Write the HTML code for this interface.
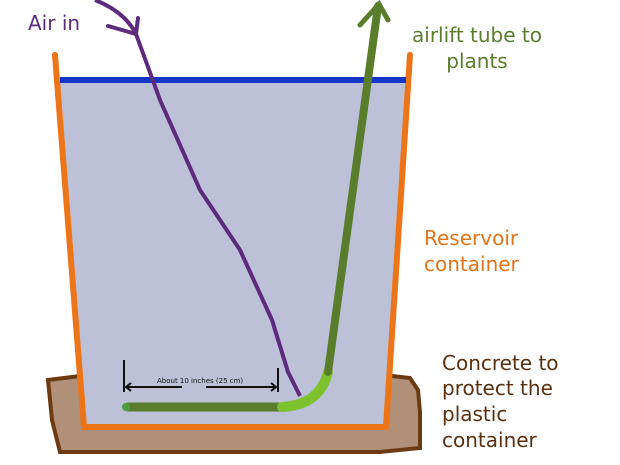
<!DOCTYPE html>
<html><head><style>body{margin:0;background:#fff}svg{display:block}</style></head><body>
<svg width="620" height="465" viewBox="0 0 620 465" xmlns="http://www.w3.org/2000/svg" font-family="'DejaVu Sans','Liberation Sans',sans-serif">
<path d="M48,380 L80,376 L392,376 L410,378 L418,390 L420,412 L420,448 L380,452 L60,452 L52,420 Z" fill="#b09078" stroke="#6b3a12" stroke-width="4"/>
<polygon points="58,80 408,80 386,426 84,426" fill="#bcc1d8"/>
<polyline points="55,55 84,427 386,427 410,55" fill="none" stroke="#ee7418" stroke-width="6" stroke-linejoin="round" stroke-linecap="round"/>
<line x1="60" y1="80" x2="406" y2="80" stroke="#1535c8" stroke-width="6"/>
<path d="M95,0 Q125,12 136,34 L160,100 L200,190 L240,250 L272,320 L288,372 L300,396" fill="none" stroke="#5e2a7e" stroke-width="4" stroke-linejoin="round"/>
<path d="M108,26 L136,34 L138,18" fill="none" stroke="#5e2a7e" stroke-width="4" stroke-linecap="round"/>
<path d="M128,407 L282,407" stroke="#5a7d2c" stroke-width="9" stroke-linecap="round"/>
<path d="M282,407 Q320,405 328,372" fill="none" stroke="#7dc12c" stroke-width="10" stroke-linecap="round"/>
<path d="M328,372 L378,6" stroke="#5a7d2c" stroke-width="8" stroke-linecap="round"/>
<path d="M360,25 L379,4 L388,20" fill="none" stroke="#5a7d2c" stroke-width="5" stroke-linecap="round"/>
<circle cx="126" cy="407" r="4" fill="#4aa040"/>
<g stroke="#111" stroke-width="2"><line x1="124" y1="360" x2="124" y2="392"/><line x1="278" y1="368" x2="278" y2="392"/>
<line x1="126" y1="387" x2="182" y2="387"/><line x1="206" y1="387" x2="276" y2="387"/>
<polyline points="131,383 126,387 131,391" fill="none"/><polyline points="271,383 276,387 271,391" fill="none"/></g>
<text x="157" y="383" font-size="7" fill="#111">About 10 inches (25 cm)</text>
<text x="28" y="30" font-size="20" fill="#5e2a7e">Air in</text>
<text x="477" y="42" font-size="20" fill="#5a7d2c" text-anchor="middle">airlift tube to</text>
<text x="477" y="68" font-size="20" fill="#5a7d2c" text-anchor="middle">plants</text>
<text x="424" y="245" font-size="20" fill="#e47418">Reservoir</text>
<text x="424" y="271" font-size="20" fill="#e47418">container</text>
<g font-size="20" fill="#5a3010"><text x="442" y="370">Concrete to</text><text x="442" y="395">protect the</text><text x="442" y="421">plastic</text><text x="442" y="447">container</text></g>
</svg>
</body></html>
